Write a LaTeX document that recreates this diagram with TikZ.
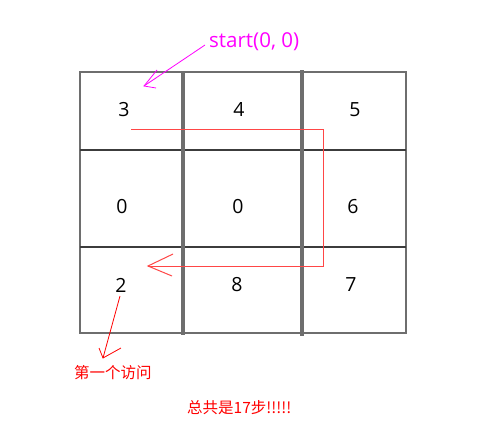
\documentclass[tikz,border=0pt]{standalone}
\usepackage{fontspec}
\setmainfont{Open Sans}
\newfontfamily\cjk{Noto Sans CJK SC}
\definecolor{mag}{RGB}{255,0,255}
\definecolor{rd}{RGB}{255,0,0}
\definecolor{lrd}{RGB}{255,70,70}
\definecolor{gridgray}{RGB}{110,110,110}
\definecolor{griddark}{RGB}{60,60,60}
\begin{document}
\begin{tikzpicture}[x=1pt,y=-1pt,
  thinline/.style={draw=gridgray,line width=1.3pt},
  thickline/.style={draw=gridgray,line width=3.5pt},
  hline/.style={draw=griddark,line width=1.8pt},
  num/.style={font=\fontsize{19.5}{19.5}\selectfont,text=black,inner sep=0pt},
  redpath/.style={draw=lrd,line width=1pt},
  redarrow/.style={draw=rd,line width=0.8pt},
  magarrow/.style={draw=mag,line width=0.8pt},
  lbl/.style={inner sep=0pt,anchor=west}]
\useasboundingbox (0,0) rectangle (489,444);
\fill[white] (0,0) rectangle (489,444);
% grid
\coordinate (tl) at (80,72);
\coordinate (br) at (406,333);
\draw[thinline] (tl) rectangle (br);
\draw[hline] (80,150) -- (406,150);
\draw[hline] (80,247) -- (406,247);
\draw[thickline] (183,72) -- (183,335);
\draw[thickline] (302,70) -- (302,336);
% numbers
\node[num] (n3) at (124,110) {3};
\node[num] (n4) at (239,110) {4};
\node[num] (n5) at (355,110) {5};
\node[num] (n0a) at (122,207) {0};
\node[num] (n0b) at (238,207) {0};
\node[num] (n6) at (353,207) {6};
\node[num] (n2) at (121,285) {2};
\node[num] (n8) at (237,285) {8};
\node[num] (n7) at (351,285) {7};
% red path
\coordinate (p0) at (131,129.5);
\coordinate (p1) at (323,129.5);
\coordinate (p2) at (323,266);
\coordinate (p3) at (148,266);
\draw[redpath] (p0) -- (p1) -- (p2) -- (p3);
\draw[redpath] (173,254) -- (p3) -- (172,276);
% start label
\node[lbl,text=mag,font=\fontsize{20.5}{20.5}\selectfont] (start) at (209,42) {start(0, 0)};
\coordinate (m0) at (205,45);
\coordinate (m1) at (144,86);
\draw[magarrow] (m0) -- (m1);
\draw[magarrow] (157,70) -- (m1) -- (156,88);
% first visit
\node[lbl,text=rd,font=\cjk\fontsize{15.5}{15.5}\selectfont] (first) at (74,373) {第一个访问};
\coordinate (r0) at (120,296);
\coordinate (r1) at (103,358);
\draw[redarrow] (r0) -- (r1);
\draw[redarrow] (99,348) -- (r1) -- (121,348);
\node[lbl,text=rd,font=\cjk\fontsize{15.5}{15.5}\selectfont] (total) at (187,408) {总共是17步!!!!!};
\end{tikzpicture}
\end{document}
